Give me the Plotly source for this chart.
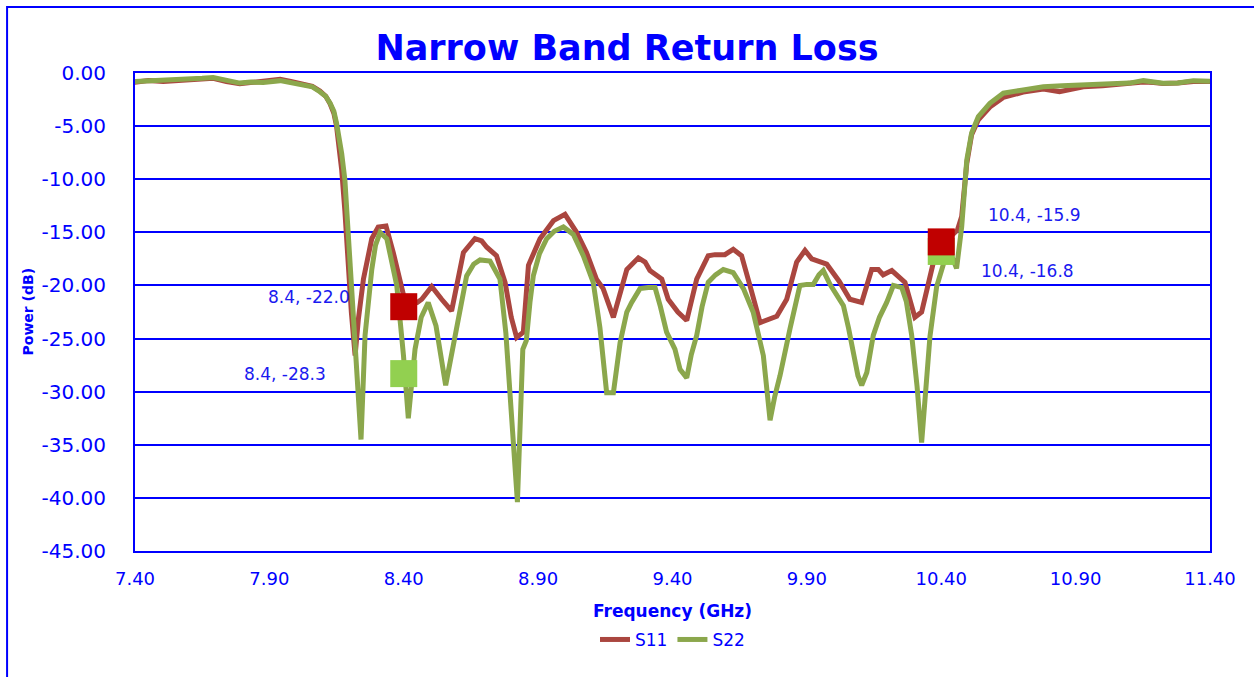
import plotly.graph_objects as go

# frequency (GHz) and return loss (dB)
s11_freq = [7.394, 7.45, 7.505, 7.55, 7.605, 7.65, 7.691, 7.74, 7.79, 7.83, 7.877, 7.94, 7.98,
            8.026, 8.06, 8.088, 8.11, 8.126, 8.14, 8.15, 8.16, 8.169, 8.181, 8.194, 8.205, 8.219,
            8.231, 8.25, 8.281, 8.305, 8.334, 8.361, 8.386, 8.40, 8.429, 8.45, 8.467, 8.504,
            8.541, 8.578, 8.622, 8.665, 8.69, 8.709, 8.745, 8.777, 8.80, 8.82, 8.845, 8.864,
            8.907, 8.957, 9.0, 9.043, 9.08, 9.117, 9.142, 9.18, 9.23, 9.273, 9.298, 9.316,
            9.36, 9.384, 9.42, 9.453, 9.49, 9.533, 9.558, 9.595, 9.626, 9.657, 9.688, 9.726,
            9.788, 9.825, 9.862, 9.893, 9.918, 9.974, 10.02, 10.06, 10.104, 10.141, 10.166,
            10.184, 10.216, 10.265, 10.302, 10.327, 10.371, 10.40, 10.43, 10.46, 10.476,
            10.495, 10.513, 10.538, 10.581, 10.631, 10.705, 10.78, 10.84, 10.929, 11.0,
            11.053, 11.10, 11.152, 11.19, 11.226, 11.28, 11.338, 11.40]
s11_db = [-0.9, -0.7, -0.8, -0.7, -0.6, -0.55, -0.5, -0.8, -1.0, -0.9, -0.8, -0.6, -0.8,
          -1.0, -1.25, -1.7, -2.2, -2.9, -3.8, -5.0, -6.8, -9.1, -13.0, -18.5, -22.5, -26.6,
          -23.2, -19.4, -15.6, -14.5, -14.4, -16.9, -19.7, -21.0, -21.8, -21.6, -21.3, -20.1,
          -21.3, -22.4, -16.9, -15.6, -15.8, -16.4, -17.2, -19.7, -23.0, -24.9, -24.4, -18.1,
          -15.6, -13.9, -13.3, -15.0, -16.9, -19.4, -20.3, -23.0, -18.5, -17.4, -17.8, -18.6,
          -19.4, -21.3, -22.5, -23.3, -19.4, -17.2, -17.1, -17.1, -16.6, -17.2, -20.0, -23.5,
          -22.9, -21.3, -17.8, -16.7, -17.5, -18.0, -19.6, -21.3, -21.6, -18.5, -18.5,
          -19.0, -18.6, -19.7, -23.0, -22.5, -17.8, -15.9, -15.5, -14.8, -13.5,
          -8.5, -5.8, -4.4, -3.2, -2.3, -1.8, -1.5, -1.75, -1.3, -1.2,
          -1.1, -1.0, -0.85, -0.9, -1.0, -0.95, -0.8, -0.8]

s22_freq = [7.394, 7.45, 7.505, 7.55, 7.605, 7.65, 7.691, 7.74, 7.79, 7.83, 7.877, 7.94, 7.98,
            8.026, 8.06, 8.088, 8.11, 8.126, 8.14, 8.15, 8.16, 8.169, 8.181, 8.194, 8.21, 8.225,
            8.241, 8.256, 8.27, 8.281, 8.295, 8.312, 8.337, 8.355, 8.374, 8.399, 8.417, 8.442,
            8.465, 8.491, 8.52, 8.556, 8.575, 8.597, 8.634, 8.66, 8.684, 8.721, 8.758, 8.78,
            8.80, 8.823, 8.843, 8.856, 8.87, 8.882, 8.905, 8.932, 8.96, 8.994, 9.031, 9.068,
            9.105, 9.13, 9.155, 9.18, 9.205, 9.23, 9.248, 9.279, 9.31, 9.335, 9.355, 9.378,
            9.409, 9.428, 9.453, 9.47, 9.49, 9.51, 9.533, 9.56, 9.589, 9.626, 9.664, 9.70,
            9.738, 9.763, 9.78, 9.80, 9.837, 9.874, 9.90, 9.924, 9.945, 9.961, 9.986, 10.036,
            10.055, 10.073, 10.09, 10.104, 10.123, 10.147, 10.17, 10.197, 10.222, 10.253,
            10.27, 10.29, 10.31, 10.327, 10.358, 10.383, 10.42, 10.44, 10.457, 10.476, 10.495,
            10.513, 10.538, 10.581, 10.631, 10.705, 10.78, 10.85, 10.929, 11.0, 11.053, 11.10,
            11.152, 11.19, 11.226, 11.28, 11.338, 11.40]
s22_db = [-0.8, -0.75, -0.72, -0.65, -0.55, -0.5, -0.42, -0.7, -0.95, -0.85, -0.9, -0.72, -0.9,
          -1.03, -1.3, -1.76, -2.2, -2.85, -3.6, -4.74, -6.0, -7.56, -10.07, -15.7, -22.0, -28.5,
          -34.5, -24.7, -20.5, -18.5, -16.2, -15.0, -15.6, -17.5, -20.0, -26.6, -32.5, -26.0,
          -23.0, -21.6, -23.8, -29.4, -27.0, -23.8, -19.1, -18.0, -17.6, -17.7, -19.4, -24.5,
          -32.0, -40.4, -26.0, -25.2, -21.5, -19.1, -17.0, -15.6, -14.9, -14.5, -15.2, -17.2,
          -19.7, -24.0, -30.1, -30.1, -25.4, -22.5, -21.6, -20.3, -20.2, -20.2, -22.0, -24.4,
          -26.0, -27.9, -28.7, -26.5, -24.7, -22.0, -19.7, -19.0, -18.5, -18.8, -20.3, -22.5,
          -26.6, -32.7, -30.5, -28.5, -24.1, -20.0, -19.9, -19.9, -19.0, -18.6, -19.9, -21.9,
          -24.0, -26.6, -28.5, -29.4, -28.2, -24.7, -23.0, -21.6, -20.0, -20.2,
          -21.5, -24.7, -29.5, -34.8, -24.8, -20.1, -17.0, -17.3, -18.4, -14.5, -8.2,
          -5.65, -4.1, -2.85, -1.9, -1.6, -1.3, -1.2, -1.13, -1.1, -1.05, -0.95,
          -0.72, -0.9, -0.97, -0.95, -0.72, -0.78]

marker_freq = [8.4, 10.4]
s11_marks = [-22.0, -15.9]
s22_marks = [-28.3, -16.8]

x_ticks = [7.40, 7.90, 8.40, 8.90, 9.40, 9.90, 10.40, 10.90, 11.40]
y_ticks = [0, -5, -10, -15, -20, -25, -30, -35, -40, -45]

BLUE = "#0000FF"
FONT = "DejaVu Sans"

fig = go.Figure()
fig.add_trace(go.Scatter(x=s11_freq, y=s11_db, mode="lines", name="S11",
                         line=dict(color="#AA463F", width=5)))
fig.add_trace(go.Scatter(x=s22_freq, y=s22_db, mode="lines", name="S22",
                         line=dict(color="#8BA74C", width=5)))
fig.add_trace(go.Scatter(x=marker_freq, y=s22_marks, mode="markers", showlegend=False,
                         marker=dict(symbol="square", size=27, color="#92D050")))
fig.add_trace(go.Scatter(x=marker_freq, y=s11_marks, mode="markers", showlegend=False,
                         marker=dict(symbol="square", size=27, color="#C00000")))

# marker labels: (shift x, shift y, anchor) per point
s11_pos = [(-52, 10, "right"), (45, 27, "left")]
s22_pos = [(-76, 0, "right"), (38, -20, "left")]
for vals, pos in ((s11_marks, s11_pos), (s22_marks, s22_pos)):
    for f, v, (dx, dy, anc) in zip(marker_freq, vals, pos):
        fig.add_annotation(x=f, y=v, text=f"{f:.1f}, {v:.1f}", showarrow=False,
                           xanchor=anc, yanchor="middle", xshift=dx, yshift=dy,
                           font=dict(family=FONT, size=17, color="#1A1AF0"))

fig.add_annotation(x=0.5, y=-0.125, xref="paper", yref="paper", text="<b>Frequency (GHz)</b>",
                   showarrow=False, yanchor="middle", font=dict(family=FONT, size=17, color=BLUE))
fig.add_annotation(x=-0.1, y=0.5, xref="paper", yref="paper", text="<b>Power (dB)</b>",
                   showarrow=False, textangle=-90, xanchor="center",
                   font=dict(family=FONT, size=14, color=BLUE))

# outer chart frame
fig.add_shape(type="rect", xref="paper", yref="paper", x0=-0.119, x1=1.2, y0=-0.4, y1=1.138,
              line=dict(color=BLUE, width=2), layer="below")

fig.update_layout(
    width=1254, height=677,
    margin=dict(l=135, r=44, t=73, b=126),
    paper_bgcolor="white", plot_bgcolor="white",
    title=dict(text="<b>Narrow Band Return Loss</b>", x=0.5, xref="container", xanchor="center",
               y=1 - 48 / 677, yref="container", yanchor="middle",
               font=dict(family=FONT, size=35, color=BLUE)),
    xaxis=dict(range=[7.4, 11.4], tickvals=x_ticks, ticktext=[f"{t:.2f}" for t in x_ticks],
               showgrid=False, zeroline=False, showline=True, mirror=True,
               linecolor=BLUE, linewidth=2, ticks="outside", ticklen=10,
               tickcolor="rgba(0,0,0,0)",
               tickfont=dict(family=FONT, size=18, color=BLUE)),
    yaxis=dict(range=[-45, 0], tickvals=y_ticks, ticktext=[f"{t:.2f}" for t in y_ticks],
               showgrid=True, gridcolor=BLUE, gridwidth=2, zeroline=False, showline=True,
               mirror=True, linecolor=BLUE, linewidth=2, ticks="outside", ticklen=23,
               tickcolor="rgba(0,0,0,0)",
               tickfont=dict(family=FONT, size=20, color=BLUE)),
    legend=dict(orientation="h", x=0.5, xanchor="center", y=-0.186, yanchor="middle",
                font=dict(family=FONT, size=17, color=BLUE), bgcolor="rgba(0,0,0,0)"),
    showlegend=True,
)

fig.write_html("out.html", config={"displayModeBar": False},
               post_script="document.body.style.margin='0px';")
